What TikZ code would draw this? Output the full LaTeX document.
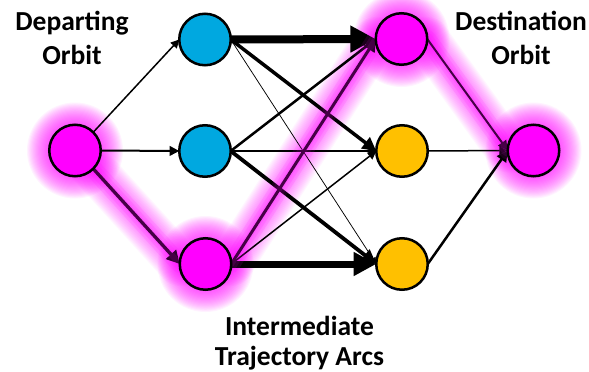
\documentclass[tikz,border=0pt]{standalone}
\usepackage{fontspec}
\setmainfont{Carlito}
\usetikzlibrary{arrows.meta}
\definecolor{nodeblue}{RGB}{0,168,224}
\definecolor{nodegold}{RGB}{255,192,0}
\definecolor{glowpink}{RGB}{255,0,255}
\pgfdeclarelayer{glowunder}
\pgfdeclarelayer{edges}
\pgfdeclarelayer{glowover}
\pgfsetlayers{glowunder,edges,glowover,main}
\tikzset{
  state/.style={circle, draw=black, line width=2.5pt, minimum size=51.5pt,
    inner sep=0pt, outer sep=0pt},
  arc/.style={draw=black, line width=#1,
    -{Triangle[length=4.5pt 2.6, width=4.5pt 2.6]}},
  heading/.style={font=\bfseries\fontsize{27.5}{33}\selectfont, inner sep=0pt,
    anchor=base},
  glowroute/.style={insert path={(L.center) -- (L.south east) -- (M3.west)
    -- (M3.east) -- (M1.west) -- (M1.east) -- (R.west) -- (R.center)}},
  glowline/.style={draw=glowpink, line join=round, line cap=round},
}
\begin{document}
\begin{tikzpicture}[x=1pt,y=-1pt]
\useasboundingbox (0,0) rectangle (589,372);

% orbit and arc nodes
\node[state, fill=glowpink] (L)  at (75,150.5) {};
\node[state, fill=nodeblue] (B1) at (205,39.5) {};
\node[state, fill=nodeblue] (B2) at (205,151) {};
\node[state, fill=glowpink] (M3) at (205.5,264) {};
\node[state, fill=glowpink] (M1) at (401.5,39) {};
\node[state, fill=nodegold] (O2) at (402,151) {};
\node[state, fill=nodegold] (O3) at (402,264) {};
\node[state, fill=glowpink] (R)  at (533.5,150.5) {};

% soft glow along the selected route, below the edges
\begin{pgfonlayer}{glowunder}
  \foreach \i in {1,...,20} {
    \draw[glowline, opacity=0.04, line width=2.2*\i pt, glowroute];
    \foreach \n in {L,M3,M1,R}
      \fill[glowpink, opacity=0.05] (\n.center) circle[radius=26+1.1*\i];
  }
\end{pgfonlayer}

% weighted transfer edges
\begin{pgfonlayer}{edges}
  \draw[arc=1.5pt] (L.north east) -- (B1.west);
  \draw[arc=2pt]   (L.east)       -- (B2.west);
  \draw[arc=3.3pt] (L.south east) -- (M3.west);
  \draw[arc=8pt]   (B1.east) -- (M1.west);
  \draw[arc=3.5pt] (B1.east) -- (O2.west);
  \draw[arc=0.75pt](B1.east) -- (O3.west);
  \draw[arc=2.5pt] (B2.east) -- (M1.west);
  \draw[arc=1.3pt] (B2.east) -- (O2.west);
  \draw[arc=3.8pt] (B2.east) -- (O3.west);
  \draw[arc=3pt]   (M3.east) -- (M1.west);
  \draw[arc=1.5pt] (M3.east) -- (O2.west);
  \draw[arc=7pt]   (M3.east) -- (O3.west);
  \draw[arc=2pt]   (M1.east) -- (R.west);
  \draw[arc=1.5pt] (O2.east) -- (R.west);
  \draw[arc=2.5pt] (O3.east) -- (R.west);
\end{pgfonlayer}

% light tint of the route over the edges
\begin{pgfonlayer}{glowover}
  \foreach \w in {6,12,18}
    \draw[glowline, opacity=0.1, line width=\w pt, glowroute];
\end{pgfonlayer}

% captions
\node[heading] (depA) at (72,30.7) {Departing};
\node[heading] (depB) at (72,64) {Orbit};
\node[heading] (dstA) at (521,30.7) {Destination};
\node[heading] (dstB) at (521,64) {Orbit};
\node[heading] (intA) at (299.5,335) {Intermediate};
\node[heading] (intB) at (299.5,365.3) {Trajectory Arcs};
\end{tikzpicture}
\end{document}
